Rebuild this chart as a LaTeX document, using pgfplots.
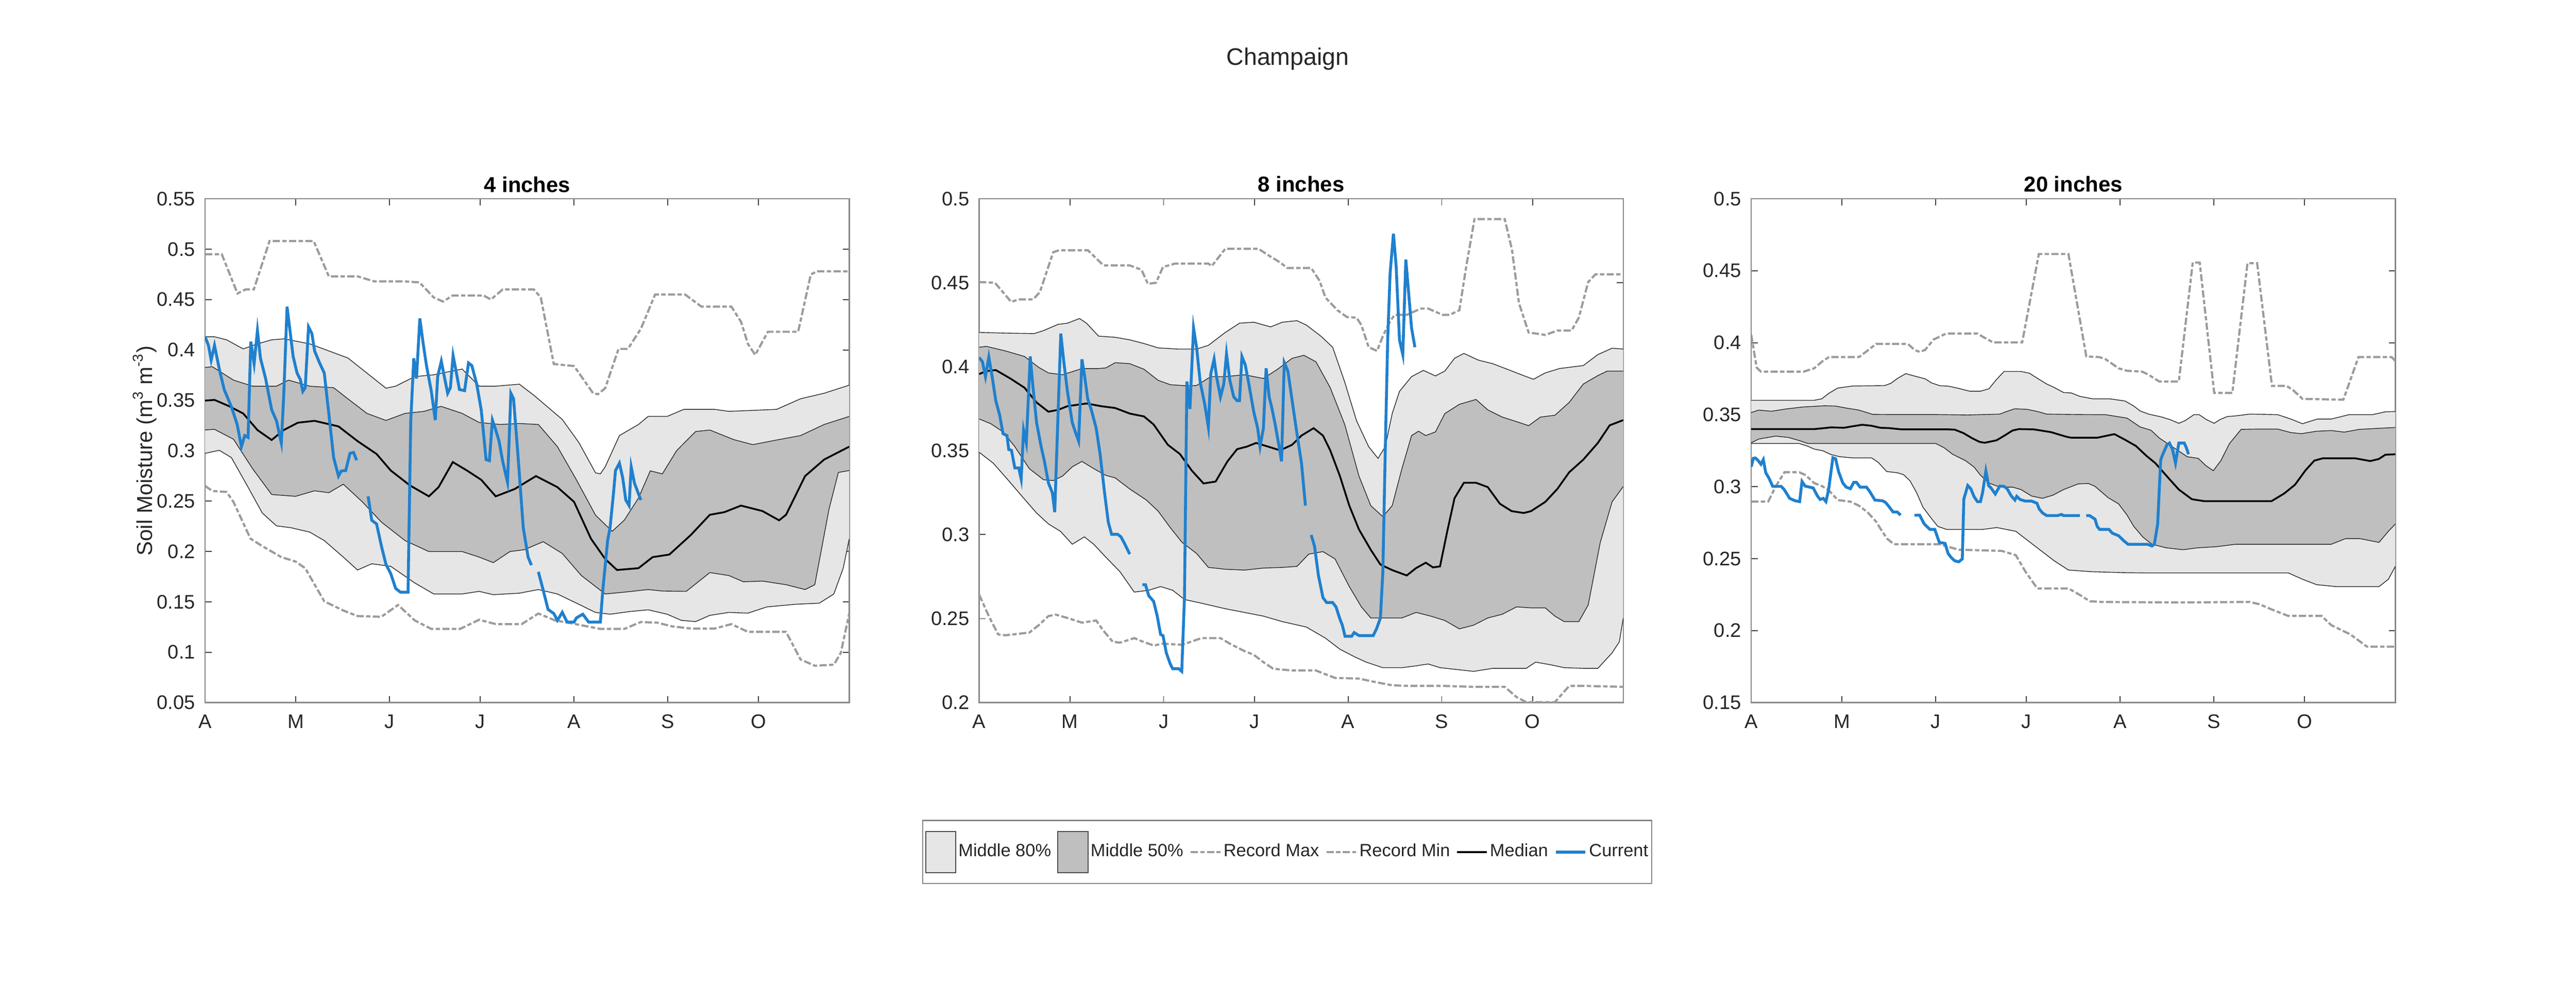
\documentclass[border=0pt]{standalone}
\usepackage{fontspec}
\setmainfont{Liberation Sans}
\usepackage{pgfplots}
\pgfplotsset{compat=1.18}
\usepgfplotslibrary{fillbetween}
\definecolor{lightband}{RGB}{230,230,230}
\definecolor{darkband}{RGB}{191,191,191}
\definecolor{recgray}{RGB}{155,155,155}
\definecolor{curblue}{RGB}{31,128,206}
\definecolor{framegray}{RGB}{136,136,136}
\definecolor{txt}{RGB}{38,38,38}
\pgfplotsset{
  panel/.style={
    scale only axis, width=268.8pt, height=210.4pt, anchor=south west,
    xmin=0, xmax=213,
    xtick={0,30,61,91,122,153,183}, xticklabels={A,M,J,J,A,S,O},
    axis line style={framegray, line width=0.5pt},
    major tick style={black!75, line width=0.4pt},
    major tick length=2.7pt,
    tick align=inside,
    tick label style={font=\fontsize{8.2}{9.8}\selectfont, text=txt},
    xticklabel style={yshift=-1.5pt},
    yticklabel style={xshift=-0.6pt, /pgf/number format/fixed, /pgf/number format/precision=2},
    scaled y ticks=false,
    /pgf/number format/assume math mode=true,
    title style={font=\bfseries\fontsize{9}{10.8}\selectfont, text=black, at={(0.5,1)}, anchor=base, yshift=-3.2pt},
    set layers,
    unbounded coords=jump,
    legend image code/.code={\draw[#1] (0pt,0pt) -- (12.4pt,0pt);},
  },
  band/.style={draw=black!85, line width=0.3pt, forget plot},
  recline/.style={recgray, line width=0.9pt, dash pattern=on 3pt off 1pt on 1.8pt off 1pt},
  rec/.style={recline, forget plot},
  medline/.style={black, line width=0.75pt},
  med/.style={medline, forget plot},
  curline/.style={curblue, line width=1.2pt},
  cur/.style={curline, forget plot},
}
\begin{document}
\begin{tikzpicture}
\node[anchor=base, font=\fontsize{10}{12}\selectfont, text=txt] at (537.4pt,392pt) {Champaign};

% ---------------- 4 inches ----------------
\begin{axis}[panel, at={(85.6pt,125.8pt)},
  ymin=0.05, ymax=0.55, ytick={0.05,0.1,0.15,0.2,0.25,0.3,0.35,0.4,0.45,0.5,0.55},
  title={4 inches},
  ylabel={Soil Moisture (m\textsuperscript{3} m\textsuperscript{-3})},
  ylabel style={font=\fontsize{9}{10.8}\selectfont, text=txt, at={(axis description cs:-0.09375,0.5)}, anchor=center}]
\addplot[band, name path=a1u80] table {
x y
0 0.413
3.1 0.413
7.1 0.410
12.6 0.401
17.3 0.406
22.0 0.410
26.0 0.411
34.6 0.406
40.9 0.399
47.2 0.392
53.5 0.377
59.8 0.362
63.0 0.364
69.3 0.3735
75.6 0.3753
85.0 0.381
90.6 0.364
96.1 0.364
103.9 0.366
108.7 0.355
118.1 0.331
123.6 0.308
129.1 0.278
130.7 0.277
132.3 0.284
137.0 0.315
143.3 0.326
146.5 0.334
152.8 0.334
158.3 0.341
168.5 0.341
173.2 0.339
181.1 0.340
189.0 0.341
196.9 0.3515
204.7 0.357
213 0.365
};
\addplot[band, name path=a1l80] table {
x y
0 0.2974
4.7 0.3004
8.7 0.2931
14.2 0.2638
18.9 0.2382
23.6 0.2254
28.3 0.2236
34.6 0.2192
39.4 0.2108
45.7 0.1944
50.4 0.1816
55.1 0.1878
61.4 0.1852
69.3 0.1688
75.6 0.1578
85.0 0.1578
90.6 0.1604
95.3 0.1571
103.9 0.1586
110.2 0.1622
116.5 0.1578
122.8 0.1487
129.1 0.1395
133.9 0.1377
140.2 0.1403
146.5 0.1421
152.8 0.1377
157.5 0.1316
162.2 0.1304
166.9 0.1366
173.2 0.1395
179.5 0.1388
185.8 0.145
195.3 0.1476
203.1 0.1487
207.9 0.1578
211.0 0.1834
213 0.2126
};
\addplot[fill=lightband, draw=none, forget plot] fill between[of=a1u80 and a1l80];
\addplot[band, name path=a1u50] table {
x y
0 0.3826
2.4 0.3833
9.4 0.370
15.7 0.364
23.6 0.364
27.6 0.370
34.6 0.364
42.5 0.3625
47.2 0.3515
53.5 0.337
59.8 0.330
66.1 0.337
72.4 0.339
78.0 0.344
85.0 0.337
90.6 0.328
97.6 0.326
103.9 0.327
110.2 0.326
116.5 0.304
122.8 0.271
129.1 0.236
134.6 0.220
138.6 0.231
143.3 0.253
147.2 0.280
151.2 0.277
155.9 0.300
162.2 0.319
166.9 0.3205
174.8 0.311
181.1 0.306
189.0 0.3106
196.9 0.315
204.7 0.326
213 0.334
};
\addplot[band, name path=a1l50] table {
x y
0 0.3205
3.1 0.3212
9.4 0.3113
15.7 0.2821
22.0 0.2565
29.9 0.2547
36.2 0.2602
40.9 0.2583
45.7 0.2667
52.0 0.2492
58.3 0.2291
66.1 0.2108
74.0 0.1999
85.0 0.1999
90.6 0.1944
95.3 0.1889
100.8 0.1999
105.5 0.2017
111.8 0.2097
118.1 0.198
124.4 0.1761
132.3 0.1578
138.6 0.1596
146.5 0.1622
151.2 0.1607
159.1 0.1604
166.9 0.179
173.2 0.1761
178.0 0.1699
184.3 0.1706
192.1 0.167
198.4 0.1622
201.6 0.167
203.1 0.1907
206.3 0.2419
209.4 0.2784
213 0.2803
};
\addplot[fill=darkband, draw=none, forget plot] fill between[of=a1u50 and a1l50];
\addplot[rec] table {
x y
0 0.495
5.5 0.495
10.7 0.456
13.4 0.460
16.1 0.460
21.3 0.508
35.9 0.508
40.9 0.473
50.4 0.473
55.9 0.468
66.1 0.468
70.9 0.467
75.6 0.452
78.7 0.448
81.9 0.454
92.1 0.454
94.5 0.450
98.4 0.460
108.7 0.460
111.0 0.452
115.3 0.386
122.0 0.384
128.3 0.357
129.9 0.356
132.3 0.362
136.7 0.401
139.8 0.401
144.1 0.421
148.8 0.455
158.7 0.455
164.1 0.443
174.0 0.443
177.2 0.428
179.5 0.406
181.9 0.395
186.1 0.418
196.1 0.418
200.3 0.475
202.4 0.478
213 0.478
};
\addplot[rec] table {
x y
0 0.265
2.4 0.260
7.1 0.259
9.4 0.249
15.0 0.2127
18.9 0.2053
25.2 0.1944
29.9 0.190
33.1 0.1834
39.4 0.1505
45.7 0.1414
50.4 0.1359
58.3 0.1352
63.8 0.1469
69.3 0.1316
74.8 0.1231
84.3 0.1231
90.6 0.1322
96.1 0.1279
104.7 0.1279
110.2 0.1384
115.7 0.1316
121.3 0.1286
130.7 0.1231
138.6 0.1231
144.1 0.130
149.6 0.1293
154.3 0.1257
160.6 0.1235
168.5 0.1235
174.0 0.1279
179.5 0.1202
192.1 0.1202
196.9 0.0928
201.6 0.0866
207.9 0.0876
210.2 0.0993
213 0.1384
};
\addplot[med] table {
x y
0 0.3497
3.1 0.3504
7.9 0.3442
12.6 0.3369
17.3 0.3205
22.0 0.3106
26.0 0.3205
30.7 0.3278
36.2 0.3296
44.1 0.3241
50.4 0.3095
56.7 0.2967
61.4 0.2803
67.7 0.2656
74.0 0.2547
77.2 0.2638
81.9 0.2887
86.6 0.2803
91.3 0.2711
96.1 0.2547
102.4 0.262
109.4 0.2748
116.5 0.2638
122.0 0.2492
127.6 0.2126
132.3 0.1925
136.2 0.1816
143.3 0.1834
148.0 0.1944
153.5 0.1969
160.6 0.2163
166.9 0.2364
171.7 0.239
177.2 0.2455
184.3 0.2401
189.8 0.2309
192.1 0.2364
198.4 0.2748
204.7 0.2912
213 0.304
};
\addplot[cur] table {
x y
0 0.413
1.1 0.4045
2.0 0.3899
3.1 0.4045
4.7 0.3808
6.3 0.3607
8.7 0.3435
10.6 0.326
12.0 0.304
13.1 0.315
14.2 0.3132
15.1 0.4082
16.2 0.3863
17.3 0.4192
18.3 0.3917
20.0 0.3716
22.0 0.3406
23.6 0.3296
25.2 0.3077
26.0 0.3552
27.1 0.4429
29.1 0.3936
30.4 0.3771
31.5 0.3705
32.3 0.3589
33.1 0.3625
34.2 0.4228
35.3 0.4162
36.2 0.399
37.8 0.3874
39.4 0.3771
40.9 0.3369
42.5 0.2931
44.1 0.2748
45.0 0.2799
46.5 0.2803
47.9 0.2974
49.1 0.2982
50.1 0.2905
nan nan
53.9 0.2547
55.1 0.2309
56.7 0.2273
58.3 0.2053
59.8 0.1871
61.4 0.1779
63.0 0.1633
64.6 0.1596
67.1 0.1596
68.0 0.3296
69.0 0.3917
69.9 0.3716
71.0 0.4312
72.1 0.4064
73.2 0.3844
74.8 0.3589
76.1 0.3303
76.9 0.3735
78.1 0.3888
79.1 0.3735
80.2 0.357
81.1 0.3625
82.0 0.3943
83.1 0.3771
84.1 0.3607
85.8 0.3596
87.1 0.387
88.2 0.3844
89.8 0.3662
91.3 0.3406
92.9 0.2912
94.0 0.2901
95.0 0.3303
96.1 0.3205
97.2 0.3095
98.4 0.2894
100.0 0.2686
101.1 0.357
102.0 0.3515
103.6 0.2894
105.2 0.2236
106.8 0.1944
107.9 0.1864
nan nan
110.2 0.1798
111.8 0.1615
113.4 0.1425
115.3 0.1384
116.5 0.1316
118.1 0.1396
119.7 0.13
122.0 0.13
122.8 0.1341
124.9 0.1377
126.8 0.13
130.7 0.13
131.5 0.1615
133.1 0.2108
133.9 0.2236
135.0 0.2565
135.7 0.2803
137.0 0.2876
138.1 0.2729
139.1 0.251
140.2 0.2455
140.9 0.2839
142.0 0.2675
144.1 0.251
};
\end{axis}

% ---------------- 8 inches ----------------
\begin{axis}[panel, at={(408.6pt,125.8pt)},
  ymin=0.2, ymax=0.5, ytick={0.2,0.25,0.3,0.35,0.4,0.45,0.5},
  title={8 inches},
  legend columns=6,
  legend style={at={(0.4784,-0.2966)}, anchor=center, draw=framegray, line width=0.5pt, fill=white,
    inner xsep=1pt, inner ysep=4.4pt, font=\fontsize{7.4}{8.9}\selectfont, text=txt,
    nodes={inner sep=0.5pt, text depth=0.15em},
    /tikz/every odd column/.append style={column sep=0.4pt},
    /tikz/every even column/.append style={column sep=2.1pt}},
  legend cell align=left]
\addlegendimage{legend image code/.code={\draw[fill=lightband, draw=black!70, line width=0.4pt] (0pt,-8.6pt) rectangle (12.6pt,8.6pt);}}
\addlegendentry{Middle 80\%}
\addlegendimage{legend image code/.code={\draw[fill=darkband, draw=black!70, line width=0.4pt] (0pt,-8.6pt) rectangle (12.6pt,8.6pt);}}
\addlegendentry{Middle 50\%}
\addlegendimage{recline}
\addlegendentry{Record Max}
\addlegendimage{recline}
\addlegendentry{Record Min}
\addlegendimage{medline}
\addlegendentry{Median}
\addlegendimage{curline}
\addlegendentry{Current}
\addplot[band, name path=a2u80] table {
x y
0 0.4204
8.7 0.420
18.2 0.4197
21.3 0.4215
26.1 0.4252
29.2 0.4259
33.2 0.4287
35.5 0.4259
39.5 0.4182
45.0 0.4175
49.8 0.416
54.5 0.4138
59.2 0.4112
65.6 0.4105
71.9 0.4105
75.8 0.4127
81.4 0.4204
86.1 0.4259
90.8 0.4265
96.4 0.4237
100.3 0.4265
105.1 0.4274
108.2 0.4248
113.0 0.4182
116.9 0.4116
120.9 0.3908
124.8 0.3678
128.8 0.3524
131.9 0.3454
134.3 0.3524
136.6 0.3721
139.0 0.3853
143.0 0.3941
146.9 0.3978
150.9 0.3945
154.0 0.3974
157.2 0.405
160.3 0.4079
165.1 0.4039
169.8 0.4018
174.6 0.3985
179.3 0.3952
183.3 0.3925
187.2 0.3963
191.9 0.3989
199.8 0.4007
204.6 0.4072
209.3 0.411
213 0.4105
};
\addplot[band, name path=a2l80] table {
x y
0 0.3491
4.7 0.3425
9.5 0.3327
14.2 0.3228
19.0 0.3129
22.9 0.3064
26.9 0.302
30.8 0.2943
34.8 0.2987
37.9 0.2943
41.9 0.2866
46.6 0.2779
51.3 0.2658
56.1 0.2669
60.0 0.2691
64.0 0.2669
67.9 0.2614
73.5 0.2592
81.4 0.2559
87.7 0.2537
94.0 0.2515
100.3 0.2482
108.2 0.245
114.5 0.2384
119.3 0.2318
124.0 0.2274
128.0 0.2241
133.5 0.2208
139.8 0.2208
144.5 0.2219
148.5 0.223
152.4 0.2208
158.0 0.2197
163.5 0.2186
169.8 0.2204
176.1 0.2204
180.9 0.2204
184.0 0.2241
188.8 0.2226
193.5 0.2208
199.8 0.2204
204.6 0.2204
209.3 0.2296
211.7 0.2362
213 0.2504
};
\addplot[fill=lightband, draw=none, forget plot] fill between[of=a2u80 and a2l80];
\addplot[band, name path=a2u50] table {
x y
0 0.4116
2.4 0.4121
8.7 0.4094
15.0 0.4061
19.7 0.3996
22.9 0.3963
27.6 0.3952
34.0 0.3989
39.5 0.3989
41.9 0.3993
45.0 0.4024
49.8 0.4018
54.5 0.3985
59.2 0.3919
63.2 0.3893
68.7 0.3886
71.9 0.3888
76.6 0.3941
81.4 0.3941
87.7 0.3952
94.0 0.393
98.7 0.3985
103.5 0.405
107.4 0.4068
111.4 0.4029
116.1 0.3875
120.9 0.3656
125.6 0.3349
129.5 0.3173
133.5 0.3107
136.6 0.3173
139.8 0.3393
143.0 0.359
145.3 0.3616
147.7 0.359
150.9 0.3612
154.0 0.3721
158.8 0.3776
164.3 0.3805
168.2 0.3743
173.0 0.370
177.7 0.3673
181.7 0.3649
185.6 0.370
190.4 0.3711
195.1 0.3787
199.8 0.3897
204.6 0.3947
207.7 0.3974
213 0.3974
};
\addplot[band, name path=a2l50] table {
x y
0 0.3689
3.9 0.366
7.9 0.3612
11.8 0.3524
16.6 0.3393
21.3 0.3327
24.5 0.3322
27.6 0.3349
30.8 0.3404
34.0 0.3436
37.9 0.3393
41.9 0.3353
45.0 0.3338
49.8 0.3272
55.3 0.3206
59.2 0.314
63.2 0.3042
67.1 0.2954
71.9 0.2888
75.8 0.2805
81.4 0.2794
87.7 0.2789
94.0 0.2801
100.3 0.2805
105.1 0.2811
109.0 0.2884
113.7 0.2899
117.7 0.2855
122.4 0.2691
126.4 0.257
129.5 0.2504
133.5 0.2504
139.8 0.2504
144.5 0.2537
149.3 0.2515
154.0 0.2489
158.8 0.2439
163.5 0.2461
168.2 0.2504
173.0 0.2526
177.7 0.2570
182.5 0.2564
187.2 0.2564
190.4 0.2515
193.5 0.2482
198.3 0.2482
201.4 0.2581
205.4 0.2954
209.3 0.3195
213 0.3287
};
\addplot[fill=darkband, draw=none, forget plot] fill between[of=a2u50 and a2l50];
\addplot[rec] table {
x y
0 0.4504
5.2 0.450
10.6 0.4386
13.1 0.4401
17.9 0.4401
20.1 0.4445
24.5 0.4682
26.4 0.4693
36.0 0.4693
41.1 0.4603
49.8 0.4603
53.7 0.4577
55.8 0.4493
58.5 0.450
60.8 0.4594
64.8 0.4614
75.8 0.4614
76.9 0.4599
81.4 0.4702
92.4 0.4702
95.6 0.4664
99.5 0.4621
101.9 0.4588
109.8 0.4588
112.6 0.4511
114.5 0.4412
118.5 0.4336
121.6 0.4296
124.8 0.4292
126.4 0.4248
128.8 0.4116
131.6 0.4094
133.5 0.4182
135.9 0.427
137.4 0.4309
141.4 0.4309
146.1 0.4346
148.5 0.4346
153.2 0.4309
155.6 0.4309
158.8 0.4336
161.1 0.4599
163.8 0.4879
173.8 0.4879
176.2 0.4697
178.5 0.4379
181.7 0.4204
187.2 0.4189
191.2 0.4215
195.9 0.4215
198.3 0.4292
201.4 0.4504
203.8 0.455
213 0.455
};
\addplot[rec] table {
x y
0 0.2643
3.2 0.2515
6.3 0.2406
8.7 0.2401
16.6 0.2417
19.7 0.2461
22.9 0.2515
25.3 0.2524
29.2 0.2504
34.0 0.2476
38.7 0.2489
41.1 0.2428
44.2 0.2362
46.6 0.2357
51.3 0.2384
53.7 0.2366
57.7 0.234
60.8 0.2351
67.1 0.2344
73.5 0.2384
79.8 0.2384
82.9 0.2351
87.7 0.2307
90.8 0.2285
94.0 0.2241
97.2 0.2202
103.5 0.2191
111.4 0.2191
114.5 0.2169
117.7 0.2147
125.6 0.2143
130.3 0.2125
136.6 0.2103
143.0 0.2099
154.0 0.2099
163.5 0.2094
173.8 0.2094
177.7 0.2033
180.9 0.2003
190.4 0.2003
195.1 0.2099
201.4 0.2099
213 0.2094
};
\addplot[med] table {
x y
0 0.3956
2.4 0.3974
5.5 0.398
10.3 0.393
15.0 0.3875
19.0 0.3787
22.9 0.3732
26.1 0.3743
29.2 0.3765
35.5 0.3781
40.3 0.3765
45.0 0.3754
49.8 0.3721
54.5 0.3704
57.7 0.3656
62.4 0.3535
66.4 0.348
70.3 0.3382
74.2 0.3305
78.2 0.3316
82.1 0.3436
85.3 0.3509
88.5 0.3524
91.6 0.3546
95.6 0.3524
99.5 0.3502
103.5 0.3535
106.6 0.359
110.6 0.3634
113.7 0.359
116.1 0.3502
119.3 0.3349
122.4 0.3173
125.6 0.3031
129.5 0.291
132.7 0.2822
136.6 0.2789
141.4 0.2757
144.5 0.2801
147.7 0.2833
150.1 0.2805
152.4 0.2811
154.8 0.302
157.2 0.3217
160.3 0.3309
164.3 0.3309
168.2 0.3283
172.2 0.3184
176.1 0.314
180.1 0.3129
182.5 0.314
187.2 0.3195
191.2 0.3272
195.1 0.3371
199.8 0.3447
204.6 0.3546
208.5 0.3651
213 0.3682
};
\addplot[cur] table {
x y
0 0.4055
1.1 0.4029
2.1 0.3941
3.2 0.4057
4.3 0.3941
5.5 0.3798
6.8 0.3711
7.9 0.3601
9.2 0.359
9.8 0.3507
10.7 0.3502
11.8 0.3397
13.1 0.3397
13.9 0.3331
14.7 0.3623
15.6 0.3546
16.9 0.4061
17.7 0.3897
19.0 0.3667
20.5 0.3524
21.6 0.3436
22.9 0.3309
24.2 0.325
25.0 0.3134
26.1 0.3721
27.0 0.4197
28.0 0.4029
29.2 0.3853
30.8 0.3667
31.9 0.3607
32.9 0.3557
34.0 0.4044
34.9 0.3941
35.9 0.3809
37.1 0.3743
38.7 0.3634
40.0 0.348
41.4 0.3261
42.7 0.3075
43.8 0.3002
45.8 0.3002
46.9 0.2987
48.2 0.2943
49.8 0.2884
nan nan
54.0 0.2702
55.0 0.2702
56.1 0.2636
57.7 0.2603
58.9 0.2515
60.0 0.2406
60.8 0.2399
61.9 0.2296
63.2 0.223
64.0 0.2202
66.0 0.2202
67.0 0.2186
67.9 0.2625
68.7 0.3912
69.7 0.3748
70.9 0.423
71.9 0.4116
73.1 0.3908
74.6 0.3776
75.8 0.364
76.6 0.3958
77.7 0.4046
78.5 0.3941
79.8 0.382
80.9 0.3897
81.8 0.4077
82.9 0.3919
84.2 0.382
85.3 0.3798
86.1 0.3798
86.9 0.4061
88.0 0.4011
89.3 0.3886
90.8 0.3732
92.1 0.3634
92.9 0.3524
94.0 0.3634
94.9 0.3991
95.9 0.382
96.8 0.3754
97.9 0.3656
99.2 0.3524
100.0 0.3436
100.9 0.4024
102.1 0.3974
103.5 0.3798
105.1 0.3601
106.6 0.3425
107.9 0.3173
nan nan
109.8 0.2998
110.9 0.2932
112.2 0.2757
113.7 0.2625
114.9 0.2596
116.9 0.2596
118.0 0.257
119.3 0.2498
120.1 0.2461
121.0 0.2395
123.2 0.2395
124.0 0.2417
125.6 0.2399
130.3 0.2399
131.4 0.2439
132.7 0.2504
133.5 0.278
134.3 0.3502
135.1 0.416
135.9 0.4555
137.0 0.4792
137.9 0.4599
139.0 0.416
140.1 0.4072
141.1 0.4638
141.9 0.4467
143.0 0.423
144.1 0.4116
};
\end{axis}

% ---------------- 20 inches ----------------
\begin{axis}[panel, at={(730.8pt,125.8pt)},
  ymin=0.15, ymax=0.5, ytick={0.15,0.2,0.25,0.3,0.35,0.4,0.45,0.5},
  title={20 inches}]
\addplot[band, name path=a3u80] table {
x y
0 0.360
20.8 0.360
23.3 0.361
25.7 0.3649
28.6 0.3685
33.5 0.3699
44.1 0.3702
46.2 0.3718
48.3 0.3751
51.1 0.3785
53.9 0.3769
57.5 0.3749
59.6 0.3721
62.4 0.3701
65.2 0.3698
68.1 0.3685
72.3 0.3663
75.8 0.3663
78.6 0.368
81.1 0.3744
83.6 0.380
89.2 0.380
92.0 0.3788
94.9 0.3749
97.7 0.3713
99.8 0.3693
103.3 0.3654
105.8 0.3651
108.7 0.3627
113.0 0.361
118.6 0.361
123.6 0.3595
126.5 0.356
128.6 0.3526
131.4 0.3504
135.7 0.3484
138.6 0.3465
141.4 0.344
143.5 0.3459
146.4 0.350
148.1 0.350
150.6 0.3465
153.1 0.344
154.9 0.3465
157.4 0.3487
159.9 0.3491
164.9 0.3504
174.1 0.350
178.4 0.347
182.3 0.3437
184.8 0.3454
187.3 0.347
191.9 0.347
197.6 0.350
205.4 0.350
209.7 0.352
213 0.3522
};
\addplot[band, name path=a3l80] table {
x y
0 0.330
15.9 0.330
18.7 0.3281
20.8 0.3261
23.6 0.325
26.4 0.3223
29.3 0.3208
33.5 0.320
39.8 0.320
42.0 0.3169
44.8 0.3105
48.3 0.3097
50.4 0.3083
52.5 0.3041
54.7 0.2958
56.8 0.2857
59.6 0.2779
61.7 0.2724
64.6 0.2703
76.5 0.2703
81.2 0.2716
87.5 0.269
93.8 0.2588
100.2 0.2485
104.9 0.2421
112.8 0.2409
123.1 0.2403
130.2 0.2401
177.6 0.2401
182.3 0.2357
187.0 0.2319
193.4 0.2306
207.6 0.2306
210.7 0.2357
213 0.2447
};
\addplot[fill=lightband, draw=none, forget plot] fill between[of=a3u80 and a3l80];
\addplot[band, name path=a3u50] table {
x y
0 0.3515
2.5 0.3532
6.7 0.3524
11.6 0.354
17.3 0.3554
24.3 0.3562
27.9 0.356
31.4 0.3546
35.6 0.3532
40.2 0.3502
46.9 0.3501
61.0 0.3501
71.6 0.3498
82.2 0.3504
84.3 0.3521
87.1 0.3541
91.3 0.3537
94.9 0.3521
97.7 0.3504
108.1 0.3501
117.2 0.350
124.3 0.3476
128.6 0.3415
132.2 0.3392
135.0 0.3337
137.8 0.3298
141.4 0.3247
144.2 0.3208
147.8 0.3197
150.3 0.3147
152.8 0.3111
155.3 0.3181
158.1 0.3298
162.0 0.3398
167.0 0.340
174.1 0.340
178.4 0.3376
181.9 0.3368
186.9 0.3385
191.9 0.339
196.1 0.3379
201.1 0.3398
206.1 0.3404
213 0.3411
};
\addplot[band, name path=a3l50] table {
x y
0 0.3305
2.5 0.3331
8.1 0.3351
12.3 0.3342
15.9 0.332
18.7 0.330
61.0 0.330
63.8 0.327
66.6 0.3225
70.9 0.318
73.7 0.3136
75.8 0.308
78.6 0.3025
82.2 0.2997
86.4 0.2997
89.2 0.298
92.7 0.2935
96.3 0.2919
99.8 0.2941
103.3 0.298
108.1 0.3019
111.5 0.3022
113.7 0.3002
118.0 0.2924
121.5 0.288
124.3 0.2802
126.5 0.2724
129.5 0.265
132.5 0.260
137.3 0.2575
142.8 0.2562
147.5 0.2575
153.9 0.2583
160.2 0.260
191.8 0.260
196.5 0.2639
201.3 0.2639
207.6 0.2613
210.7 0.269
213 0.2741
};
\addplot[fill=darkband, draw=none, forget plot] fill between[of=a3u50 and a3l50];
\addplot[rec] table {
x y
0 0.4056
1.8 0.3827
3.2 0.3799
17.3 0.3799
20.8 0.3822
23.6 0.3872
25.7 0.390
35.6 0.390
38.4 0.3944
41.3 0.3992
51.8 0.3992
54.0 0.395
55.7 0.3936
57.5 0.395
60.3 0.4022
64.5 0.4064
74.8 0.4064
76.5 0.4042
80.0 0.4002
89.6 0.4002
95.1 0.4616
104.9 0.4616
110.8 0.3905
115.1 0.390
117.2 0.3885
121.5 0.3822
124.3 0.3805
129.3 0.3799
131.4 0.3777
135.0 0.373
141.4 0.373
146.0 0.4557
148.3 0.4557
153.1 0.3651
159.1 0.3651
164.1 0.4552
167.3 0.4552
172.2 0.370
177.0 0.370
179.1 0.3672
182.3 0.361
195.8 0.3604
200.8 0.390
211.8 0.390
213 0.3872
};
\addplot[rec] table {
x y
0 0.2896
5.6 0.2896
8.1 0.3002
11.0 0.310
15.9 0.310
18.0 0.308
20.8 0.3025
23.6 0.3002
25.7 0.2974
28.6 0.2907
32.8 0.2896
35.6 0.2868
38.4 0.2824
41.3 0.2757
42.5 0.2716
44.9 0.2639
47.2 0.260
62.2 0.260
68.6 0.2562
82.8 0.2554
87.5 0.2524
90.7 0.2409
94.6 0.2293
104.9 0.2293
108.1 0.2255
112.0 0.2204
116.0 0.2199
141.2 0.2196
164.9 0.2199
168.1 0.2183
172.0 0.2148
177.6 0.2102
188.6 0.2102
191.8 0.2038
198.1 0.1974
203.6 0.1889
213 0.1889
};
\addplot[med] table {
x y
0 0.340
20.8 0.340
24.3 0.3407
26.4 0.3412
30.7 0.3409
32.8 0.3417
36.7 0.343
39.8 0.3423
42.7 0.3409
45.5 0.3407
49.7 0.3398
65.2 0.3398
67.3 0.3396
70.2 0.3372
73.0 0.3337
75.5 0.3311
77.2 0.3305
81.1 0.3322
83.6 0.3353
86.4 0.339
88.5 0.340
93.4 0.3398
99.1 0.3379
104.0 0.3348
105.8 0.334
114.4 0.334
120.1 0.3365
123.6 0.3326
127.2 0.3283
130.7 0.3214
133.6 0.3164
137.8 0.3064
141.4 0.298
145.7 0.2913
149.9 0.2899
172.0 0.2899
176.2 0.2952
179.8 0.3013
183.3 0.3114
186.2 0.3181
189.0 0.3197
199.7 0.3197
204.7 0.3178
207.5 0.3192
209.7 0.3222
213 0.3225
};
\addplot[cur] table {
x y
0 0.3138
0.7 0.3197
1.4 0.3199
2.3 0.3181
3.2 0.3156
4.0 0.3188
4.8 0.3097
5.9 0.3058
7.1 0.3002
9.9 0.3002
10.9 0.298
12.7 0.2919
14.5 0.2902
16.0 0.2896
16.8 0.3036
17.8 0.3004
20.5 0.2991
21.9 0.2935
22.8 0.2911
23.8 0.2919
24.7 0.2896
25.6 0.298
27.0 0.3201
27.9 0.3194
28.9 0.3103
30.3 0.3025
31.4 0.2997
32.8 0.2986
33.9 0.303
34.8 0.303
36.0 0.2997
38.1 0.2997
39.1 0.2969
40.9 0.2907
43.4 0.2902
44.4 0.2891
45.5 0.2863
46.9 0.2824
48.3 0.2824
49.4 0.2802
nan nan
54.0 0.2802
55.7 0.2802
57.2 0.2741
59.1 0.2703
60.7 0.2703
62.2 0.2613
64.1 0.2606
65.1 0.2536
66.2 0.2506
67.3 0.2485
68.6 0.2478
69.8 0.2498
70.3 0.2913
71.6 0.3008
72.6 0.2986
73.7 0.293
74.8 0.2896
75.8 0.2896
76.5 0.2958
77.6 0.3108
78.5 0.3008
79.3 0.2991
80.7 0.2949
82.2 0.3004
83.6 0.3002
84.6 0.2986
86.0 0.2935
87.2 0.2907
87.8 0.2933
88.9 0.2911
90.6 0.290
92.7 0.290
94.5 0.2885
95.2 0.2846
96.3 0.2818
97.7 0.2799
101.2 0.2799
102.6 0.2807
103.3 0.2799
108.7 0.2799
nan nan
110.8 0.2799
111.9 0.2799
113.7 0.2774
114.4 0.2724
115.2 0.2703
118.3 0.2703
119.4 0.2677
121.5 0.2659
123.1 0.2626
124.6 0.260
131.0 0.260
132.5 0.2588
133.3 0.260
134.4 0.2741
135.4 0.3186
136.1 0.3225
137.5 0.3292
138.3 0.3303
139.3 0.3259
140.3 0.3164
141.4 0.3303
143.2 0.3303
143.9 0.327
144.6 0.3225
};
\end{axis}
\pgfresetboundingbox
\path[use as bounding box] (0,0) rectangle (1075pt,419.2pt);
\end{tikzpicture}
\end{document}
